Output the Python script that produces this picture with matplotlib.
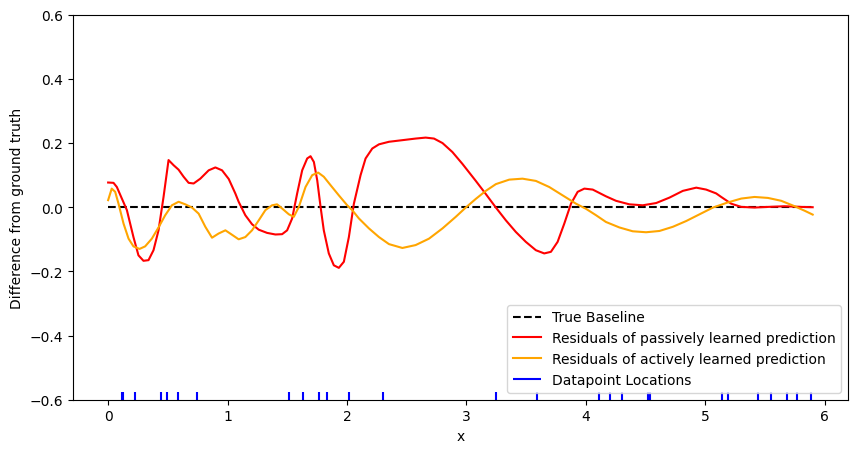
import matplotlib
matplotlib.use("Agg")
import matplotlib.pyplot as plt
import numpy as np

# Passive-learning residuals (red)
red_x = [0, 0.045, 0.073, 0.115, 0.157, 0.212, 0.254, 0.296, 0.338, 0.38,
         0.422, 0.464, 0.506, 0.548, 0.59, 0.632, 0.674, 0.716, 0.772, 0.842,
         0.898, 0.954, 1.01, 1.065, 1.093, 1.149, 1.205, 1.261, 1.331, 1.401,
         1.457, 1.499, 1.541, 1.583, 1.625, 1.667, 1.695, 1.723, 1.751, 1.779,
         1.806, 1.848, 1.89, 1.932, 1.974, 2.016, 2.058, 2.114, 2.156, 2.212,
         2.268, 2.352, 2.464, 2.575, 2.659, 2.729, 2.8, 2.883, 2.967, 3.079,
         3.163, 3.247, 3.331, 3.414, 3.498, 3.582, 3.652, 3.708, 3.764, 3.82,
         3.876, 3.932, 3.988, 4.058, 4.169, 4.253, 4.365, 4.477, 4.589, 4.701,
         4.813, 4.925, 5.008, 5.092, 5.134, 5.218, 5.302, 5.413, 5.525, 5.665,
         5.805, 5.9]
red_y = [0.077, 0.076, 0.063, 0.027, -0.009, -0.093, -0.15, -0.167, -0.165, -0.134,
         -0.072, 0.032, 0.147, 0.131, 0.117, 0.095, 0.076, 0.074, 0.089, 0.115,
         0.124, 0.115, 0.088, 0.043, 0.017, -0.025, -0.053, -0.07, -0.08, -0.085,
         -0.084, -0.072, -0.035, 0.043, 0.115, 0.152, 0.159, 0.141, 0.084, 0.001,
         -0.072, -0.144, -0.181, -0.189, -0.17, -0.093, 0.011, 0.1, 0.152, 0.183,
         0.196, 0.204, 0.209, 0.214, 0.217, 0.214, 0.2, 0.172, 0.135, 0.082,
         0.041, -0.001, -0.041, -0.077, -0.108, -0.134, -0.144, -0.139, -0.108, -0.051,
         0.011, 0.048, 0.058, 0.055, 0.034, 0.02, 0.009, 0.006, 0.013, 0.03,
         0.051, 0.061, 0.055, 0.043, 0.032, 0.011, 0.001, -0.001, 0.001, 0.003,
         0.001, 0.0]

# Active-learning residuals (orange)
orange_x = [0, 0.03, 0.059, 0.087, 0.129, 0.171, 0.212, 0.263, 0.31, 0.366,
            0.422, 0.478, 0.534, 0.59, 0.646, 0.702, 0.758, 0.814, 0.87, 0.925,
            0.982, 1.038, 1.093, 1.149, 1.205, 1.261, 1.317, 1.373, 1.415, 1.457,
            1.513, 1.555, 1.597, 1.653, 1.709, 1.759, 1.806, 1.862, 1.932, 2.002,
            2.044, 2.1, 2.184, 2.268, 2.352, 2.464, 2.575, 2.687, 2.8, 2.911,
            2.995, 3.079, 3.163, 3.247, 3.359, 3.47, 3.582, 3.694, 3.806, 3.918,
            4.002, 4.086, 4.169, 4.281, 4.393, 4.505, 4.617, 4.729, 4.841, 4.953,
            5.065, 5.19, 5.302, 5.413, 5.525, 5.637, 5.749, 5.833, 5.9]
orange_y = [0.022, 0.058, 0.048, 0.011, -0.051, -0.098, -0.122, -0.13, -0.122, -0.098,
            -0.063, -0.025, 0.006, 0.017, 0.009, -0.001, -0.02, -0.061, -0.095, -0.082,
            -0.072, -0.086, -0.1, -0.093, -0.072, -0.041, -0.009, 0.006, 0.009, -0.004,
            -0.022, -0.03, 0.001, 0.063, 0.1, 0.108, 0.095, 0.069, 0.037, 0.006,
            -0.009, -0.035, -0.066, -0.093, -0.115, -0.127, -0.118, -0.098, -0.066, -0.03,
            -0.001, 0.026, 0.051, 0.072, 0.086, 0.089, 0.082, 0.063, 0.037, 0.011,
            -0.005, -0.025, -0.046, -0.063, -0.075, -0.078, -0.074, -0.061, -0.043, -0.022,
            -0.001, 0.015, 0.027, 0.032, 0.029, 0.02, 0.003, -0.011, -0.023]

baseline_x = [0, 5.9]
baseline_y = [0, 0]

datapoints = [0.116, 0.124, 0.224, 0.445, 0.495, 0.587, 0.747, 1.518, 1.628,
              1.762, 1.837, 2.019, 2.305, 3.247, 3.59, 4.11, 4.2, 4.304, 4.522,
              4.534, 5.143, 5.19, 5.445, 5.554, 5.685, 5.77, 5.89]

assert len(red_x) == len(red_y)
assert len(orange_x) == len(orange_y)

fig, ax = plt.subplots(figsize=(10, 5), dpi=100)
ax.plot(baseline_x, baseline_y, 'k--', label='True Baseline')
ax.plot(red_x, red_y, color='red', label='Residuals of passively learned prediction')
ax.plot(orange_x, orange_y, color='orange', label='Residuals of actively learned prediction')
ax.vlines(datapoints, -0.6, -0.575, color='blue', linewidth=1.5, label='Datapoint Locations')
ax.set_ylim(-0.6, 0.6)
ax.set_xlabel('x')
ax.set_ylabel('Difference from ground truth')
ax.legend(loc='lower right')
fig.savefig('out.png', dpi=100, bbox_inches='tight')
